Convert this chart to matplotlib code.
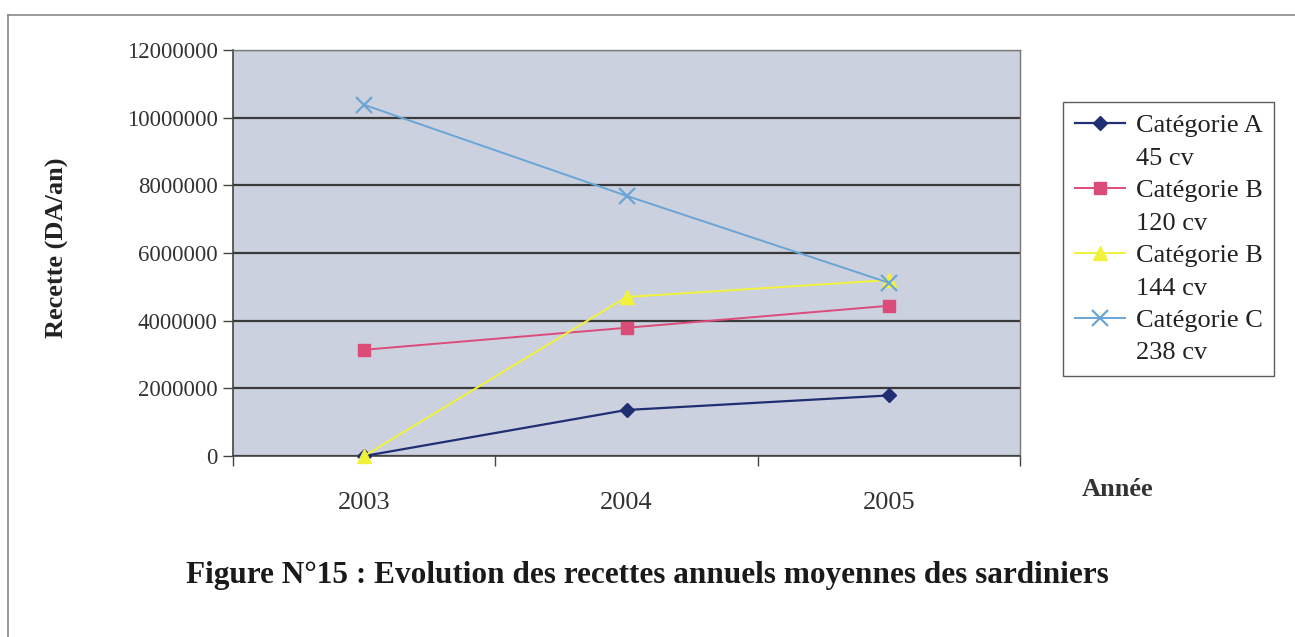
import matplotlib
matplotlib.use("Agg")
import matplotlib.pyplot as plt
from matplotlib.lines import Line2D

# Data: average annual revenue (DA/an) of sardine boats by category
years = ["2003", "2004", "2005"]
cat_a_45 = [0, 1360000, 1790000]
cat_b_120 = [3140000, 3790000, 4440000]
cat_b_144 = [0, 4700000, 5200000]
cat_c_238 = [10380000, 7690000, 5120000]
series_names = ["Catégorie A", "Catégorie B", "Catégorie B", "Catégorie C"]
series_power = ["45 cv", "120 cv", "144 cv", "238 cv"]
y_ticks = [0, 2000000, 4000000, 6000000, 8000000, 10000000, 12000000]

W, H = 1295, 637
fig = plt.figure(figsize=(W / 100, H / 100), dpi=100)
fig.patch.set_facecolor("white")
serif = ["Liberation Serif", "DejaVu Serif"]

ax = fig.add_axes([233 / W, 1 - 456 / H, (1020 - 233) / W, (456 - 50) / H])
ax.set_facecolor("#cbd1df")

x = list(range(len(years)))
styles = [
    dict(color="#1f2f72", marker="D", markersize=7.5, lw=1.6),
    dict(color="#dc4c78", marker="s", markersize=8, lw=1.4),
    dict(color="#f2f23c", marker="^", markersize=10, lw=1.4),
    dict(color="#6aa5d6", marker="x", markersize=11, lw=1.4, markeredgewidth=1.6),
]
handles, labels = [], []
for vals, st, name, power in zip([cat_a_45, cat_b_120, cat_b_144, cat_c_238], styles,
                                 series_names, series_power):
    (ln,) = ax.plot(x, vals, clip_on=False, zorder=3, **st)
    # each legend entry: marker row with the category name, then a row with the power
    handles += [ln, Line2D([], [], linestyle="none", marker="none")]
    labels += [name, power]

ax.set_xlim(-0.5, 2.5)
ax.set_ylim(0, 12000000)
ax.set_yticks(y_ticks)
ax.set_yticklabels([str(v) for v in y_ticks], family=serif, fontsize=16.5, color="#333333")
ax.yaxis.grid(True, color="#3a3a3a", lw=1.6)
ax.set_axisbelow(True)
ax.tick_params(axis="y", direction="out", length=7, width=1, color="#444444", pad=4)

ax.set_xticks(x)
ax.set_xticklabels(years, family=serif, fontsize=19, color="#333333")
ax.set_xticks([-0.5, 0.5, 1.5, 2.5], minor=True)
ax.tick_params(axis="x", which="major", length=0, pad=26)
ax.tick_params(axis="x", which="minor", direction="out", length=7, width=1, color="#444444")

for side in ["left", "bottom"]:
    ax.spines[side].set_color("#444444")
    ax.spines[side].set_linewidth(1.2)
for side in ["top", "right"]:
    ax.spines[side].set_color("#7a7a7a")
    ax.spines[side].set_linewidth(1.0)

leg = ax.legend(
    handles, labels,
    loc="upper left",
    bbox_to_anchor=(1063 / W, 1 - 102 / H),
    bbox_transform=fig.transFigure,
    borderaxespad=0,
    frameon=True,
    fancybox=False,
    edgecolor="#333333",
    prop={"family": serif, "size": 19},
    handlelength=1.9,
    handletextpad=0.4,
    labelspacing=0.34,
    borderpad=0.45,
)
leg.get_frame().set_linewidth(1.0)
for t in leg.get_texts():
    t.set_color("#222222")

fig.text(57 / W, 1 - 248 / H, "Recette (DA/an)", rotation=90, ha="center", va="center",
         family=serif, fontweight="bold", fontsize=19, color="#222222")
fig.text(1118 / W, 1 - 490 / H, "Année", ha="center", va="center",
         family=serif, fontweight="bold", fontsize=19, color="#333333")
fig.text(647 / W, 1 - 576 / H,
         "Figure N°15 : Evolution des recettes annuels moyennes des sardiniers",
         ha="center", va="center", family=serif, fontweight="bold", fontsize=22.5, color="#1a1a1a")

# outer frame (top and left edges)
fig.add_artist(Line2D([8 / W, 1.0], [1 - 15 / H, 1 - 15 / H], transform=fig.transFigure,
                      color="#888888", lw=1.2))
fig.add_artist(Line2D([8 / W, 8 / W], [0.0, 1 - 15 / H], transform=fig.transFigure,
                      color="#888888", lw=1.2))

fig.savefig("out.png", dpi=100)
